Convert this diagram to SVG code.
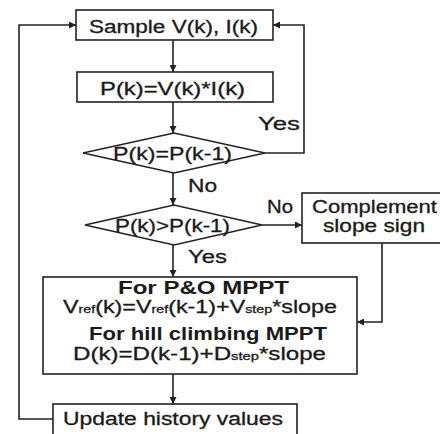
<svg xmlns="http://www.w3.org/2000/svg" width="440" height="434" viewBox="0 0 440 434">
<style>
.box{fill:#fff;stroke:#222;stroke-width:1.6}
.t{font-family:"Liberation Sans",Arial,sans-serif;font-size:18px;fill:#1a1a1a;stroke:#1a1a1a;stroke-width:0.3}
.b{font-weight:bold;stroke-width:0}
.sub{font-size:11px}
.ln{fill:none;stroke:#222;stroke-width:1.6}
</style>
<defs>
<marker id="ar" viewBox="0 0 10 10" refX="10" refY="5" markerWidth="8" markerHeight="7" markerUnits="userSpaceOnUse" orient="auto">
<path d="M0,0 L10,5 L0,10 z" fill="#222"/>
</marker>
</defs>
<rect width="440" height="434" fill="#fff"/>
<g id="connectors">
<path class="ln" d="M173,40 V72" marker-end="url(#ar)"/>
<path class="ln" d="M173,102 V133" marker-end="url(#ar)"/>
<path class="ln" d="M265,153 H304 V25 H273" marker-end="url(#ar)"/>
<path class="ln" d="M173,173 V205" marker-end="url(#ar)"/>
<path class="ln" d="M262,225 H302" marker-end="url(#ar)"/>
<path class="ln" d="M173,245 V277" marker-end="url(#ar)"/>
<path class="ln" d="M382,243 V322 H357" marker-end="url(#ar)"/>
<path class="ln" d="M173,374 V404" marker-end="url(#ar)"/>
<path class="ln" d="M53,419 H19 V25 H76" marker-end="url(#ar)"/>
<text class="t" x="258" y="130" textLength="42" lengthAdjust="spacingAndGlyphs">Yes</text>
<text class="t" x="188" y="192" textLength="29" lengthAdjust="spacingAndGlyphs">No</text>
<text class="t" x="267" y="213" textLength="26" lengthAdjust="spacingAndGlyphs">No</text>
<text class="t" x="188" y="263" textLength="39" lengthAdjust="spacingAndGlyphs">Yes</text>
</g>
<g id="sample">
<rect class="box" x="76" y="10" width="197" height="30"/>
<text class="t" x="89" y="33" textLength="169" lengthAdjust="spacingAndGlyphs">Sample V(k), I(k)</text>
</g>
<g id="power">
<rect class="box" x="77" y="72" width="196" height="30"/>
<text class="t" x="100" y="95" textLength="145" lengthAdjust="spacingAndGlyphs">P(k)=V(k)*I(k)</text>
</g>
<g id="equal">
<polygon class="box" points="83,153 174,133 265,153 174,173"/>
<text class="t" x="113" y="160" textLength="119" lengthAdjust="spacingAndGlyphs">P(k)=P(k-1)</text>
</g>
<g id="greater">
<polygon class="box" points="85,225 174,205 262,225 174,245"/>
<text class="t" x="115" y="232" textLength="115" lengthAdjust="spacingAndGlyphs">P(k)&gt;P(k-1)</text>
</g>
<g id="complement">
<rect class="box" x="302" y="193" width="142" height="50"/>
<text class="t" x="312" y="213" textLength="125" lengthAdjust="spacingAndGlyphs">Complement</text>
<text class="t" x="323" y="232" textLength="102" lengthAdjust="spacingAndGlyphs">slope sign</text>
</g>
<g id="update-rule">
<rect class="box" x="43" y="277" width="314" height="97"/>
<text class="t b" x="118" y="294" textLength="171" lengthAdjust="spacingAndGlyphs">For P&amp;O MPPT</text>
<text class="t" x="63" y="313" textLength="274" lengthAdjust="spacingAndGlyphs">V<tspan class="sub">ref</tspan>(k)=V<tspan class="sub">ref</tspan>(k-1)+V<tspan class="sub">step</tspan>*slope</text>
<text class="t b" x="89" y="340" textLength="238" lengthAdjust="spacingAndGlyphs">For hill climbing MPPT</text>
<text class="t" x="73" y="360" textLength="253" lengthAdjust="spacingAndGlyphs">D(k)=D(k-1)+D<tspan class="sub">step</tspan>*slope</text>
</g>
<g id="history">
<rect class="box" x="53" y="404" width="244" height="34"/>
<text class="t" x="63" y="425" textLength="220" lengthAdjust="spacingAndGlyphs">Update history values</text>
</g>
</svg>
